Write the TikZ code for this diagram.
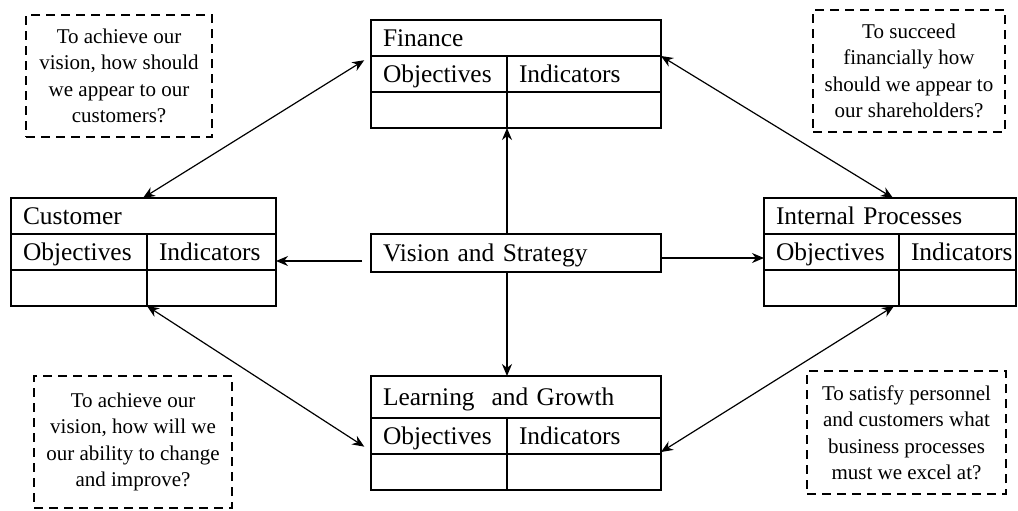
\documentclass[tikz,border=0pt]{standalone}
\usepackage{fontspec}
\setmainfont{Liberation Serif}
\usepackage{tikz}
\usetikzlibrary{arrows.meta}
\usetikzlibrary{positioning}
\def\boxfont{\fontsize{12.7}{15}\selectfont}
\def\notefont{\fontsize{10.5}{13.25}\selectfont}

\begin{document}
\begin{tikzpicture}[x=0.5pt, y=-0.5pt,
  cell/.style={draw, line width=1pt, outer sep=0pt, inner xsep=0pt, inner ysep=0pt,
    minimum height=18pt, align=left, text height=8.4pt, text depth=0pt, font=\boxfont,
    execute at begin node={\noindent\hspace*{6pt}}},
  note/.style={draw, line width=1.1pt, dash pattern=on 4.5pt off 3pt, align=center,
    inner sep=0pt, font=\notefont},
  twoway/.style={{Stealth[length=6pt, width=5pt]}-{Stealth[length=6pt, width=5pt]}, line width=0.6pt},
  oneway/.style={-{Stealth[length=6pt, width=5pt]}, line width=0.6pt}]
  \useasboundingbox (0,0) rectangle (1018,510);

  % perspectives
  \foreach \nm/\x/\y/\wo/\wi/\hgt/\lbl in {fin/371/20/68/77/18/Finance,
      cus/11/198/68/64.5/18/Customer, int/764/198/67.5/58.5/18/Internal Processes,
      lrn/371/376/68/77/21/Learning\ \ and Growth}{
    \pgfmathsetmacro\w{\wo+\wi}
    \node[cell, text width=\w pt, minimum height=\hgt pt, anchor=north west] (\nm T) at (\x,\y) {\lbl};
    \node[cell, text width=\wo pt, anchor=north west] (\nm O) at (\nm T.south west) {Objectives};
    \node[cell, text width=\wi pt, right=0pt of \nm O] (\nm I) {Indicators};
    \node[cell, text width=\wo pt, below=0pt of \nm O] (\nm A) {};
    \node[cell, text width=\wi pt, below=0pt of \nm I] (\nm B) {};
  }
  % centre
  \node[cell, text width=145pt, minimum height=19pt, anchor=north west] (vis) at (371,234) {Vision and Strategy};

  % questions
  \node[note, minimum width=93pt, minimum height=61pt] (noteC) at (119,76)
    {To achieve our\\vision, how should\\we appear to our\\customers?};
  \node[note, minimum width=96pt, minimum height=61pt] (noteF) at (909,71)
    {To succeed\\financially how\\should we appear to\\our shareholders?};
  \node[note, minimum width=99pt, minimum height=66pt] (noteL) at (133,442)
    {To achieve our\\vision, how will we\\our ability to change\\and improve?};
  \node[note, minimum width=99.5pt, minimum height=61.5pt] (noteI) at (906.5,432.5)
    {To satisfy personnel\\and customers what\\business processes\\must we excel at?};

  % links between perspectives
  \draw[twoway, shorten >=4pt] ([xshift=-2pt]cusT.north -| cusO.east) -- (finT.south west);
  \draw[twoway] (finT.south east) -- ([xshift=-3pt]intT.north -| intO.east);
  \draw[twoway, shorten >=4pt] (cusA.south east) -- ([yshift=1.5pt]lrnO.south west);
  \draw[twoway] ([yshift=1pt]lrnI.south east) -- ([xshift=-2.5pt]intA.south east);
  % links from vision
  \draw[oneway] (vis.north -| finA.south east) -- (finA.south east);
  \draw[oneway] (vis.south -| lrnO.north east) -- (lrnT.north -| lrnO.north east);
  \draw[oneway, shorten <=4.5pt] ([yshift=-4pt]vis.west) -- ([yshift=-4pt]vis.west -| cusI.east);
  \draw[oneway] ([yshift=-2.5pt]vis.east) -- ([yshift=-2.5pt]vis.east -| intO.west);
\end{tikzpicture}
\end{document}
